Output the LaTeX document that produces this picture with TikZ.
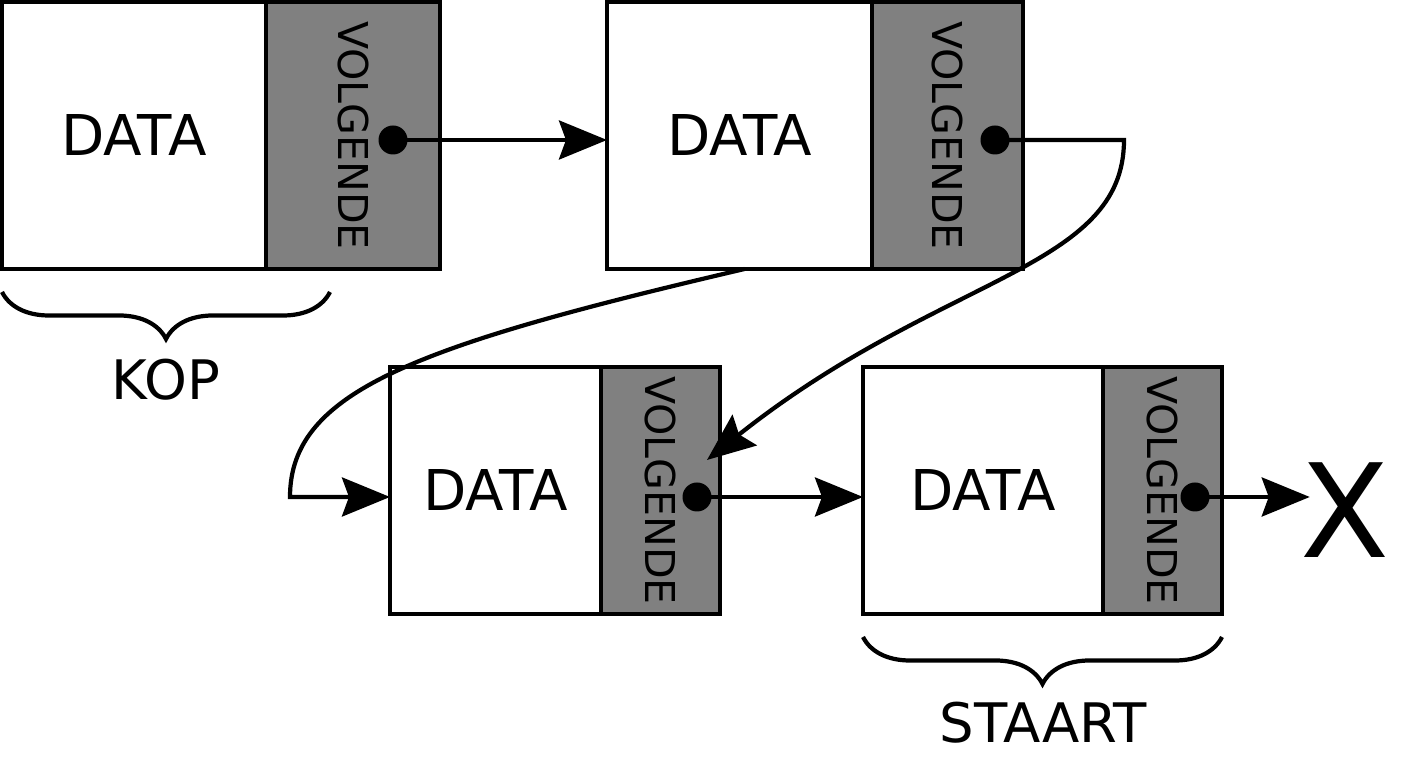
\documentclass[tikz,border=0pt]{standalone}
\usepackage{fontspec}
\setmainfont{DejaVu Sans}
\usetikzlibrary{arrows.meta, calc, positioning, decorations.pathreplacing}
\definecolor{nextgray}{gray}{0.5}
\newcommand{\vtext}[1]{\rotatebox{-90}{#1}}

\begin{document}
\begin{tikzpicture}[
datacell/.style 2 args = {rectangle, draw, line width=1.1pt, fill=white, inner sep=0pt, outer sep=0pt,
  minimum width=#1, minimum height=#2, font=\fontsize{16}{19}\selectfont},
nextcell/.style 2 args = {datacell={#1}{#2}, fill=nextgray, font=\fontsize{11.7}{14}\selectfont},
dot/.style = {circle, fill=black, inner sep=0pt, minimum size=2.9mm},
LA/.style = {% Link Arrow
  line width=1.2pt, -{Stealth[length=4.8mm, width=3.9mm, inset=0.7mm]}},
LB/.style = {% Label Brace
  line width=1.2pt, decorate, decoration={brace, amplitude=4.7mm}},
lbl/.style = {font=\fontsize{15.5}{18}\selectfont, inner sep=0pt}]
\useasboundingbox (0,0) rectangle (14.08,7.68);
% upper row
\node[datacell={2.64cm}{2.67cm}] (d1) at (1.34,6.325) {DATA};
\node[nextcell={1.74cm}{2.67cm}, right=0pt of d1] (n1) {\vtext{VOLGENDE}};
\node[datacell={2.65cm}{2.67cm}, right=1.67cm of n1] (d2) {DATA};
\node[nextcell={1.51cm}{2.67cm}, right=0pt of d2] (n2) {\vtext{VOLGENDE}};
% lower row
\node[datacell={2.11cm}{2.47cm}] (d3) at (4.955,2.775) {DATA};
\node[nextcell={1.19cm}{2.47cm}, right=0pt of d3] (n3) {\vtext{VOLGENDE}};
\node[datacell={2.40cm}{2.47cm}, right=1.43cm of n3] (d4) {DATA};
\node[nextcell={1.19cm}{2.47cm}, right=0pt of d4] (n4) {\vtext{VOLGENDE}};
\node[font=\fontsize{37}{44}\selectfont, inner sep=0pt] (nil) at (13.45,2.58) {X};
% pointers
\node[dot] (p1) at (3.93,6.28) {};
\node[dot] (p2) at (9.95,6.28) {};
\node[dot] (p3) at (6.97,2.71) {};
\node[dot] (p4) at (11.95,2.71) {};
\coordinate (c2) at (11.24,6.28);
\coordinate (t3) at (7.07,3.08);
\coordinate (k3) at (2.90,2.71);
\coordinate (e4) at ($(p4.center -| nil.west)+(0.1,0)$);
\draw[LA] (p1.center) -- (p1.center -| d2.west);
\draw[LA] (p2.center) -- (c2) .. controls (11.24,4.98) and (9.41,4.94) .. (t3);
\draw[LA] ($(d2.south)+(0.05,0)$) .. controls (4.20,4.23) and (2.90,3.78) .. (k3) -- (k3 -| d3.west);
\draw[LA] (p3.center) -- (p3.center -| d4.west);
\draw[LA] (p4.center) -- (e4);
% braces
\draw[LB] (3.30,4.76) -- (0.02,4.76);
\draw[LB] ($(n4.south east)+(0,-0.23)$) -- ($(d4.south west)+(0,-0.23)$);
\node[lbl] (kop) at (1.66,3.88) {KOP};
\node[lbl] (staart) at (10.43,0.45) {STAART};
\end{tikzpicture}
\end{document}
